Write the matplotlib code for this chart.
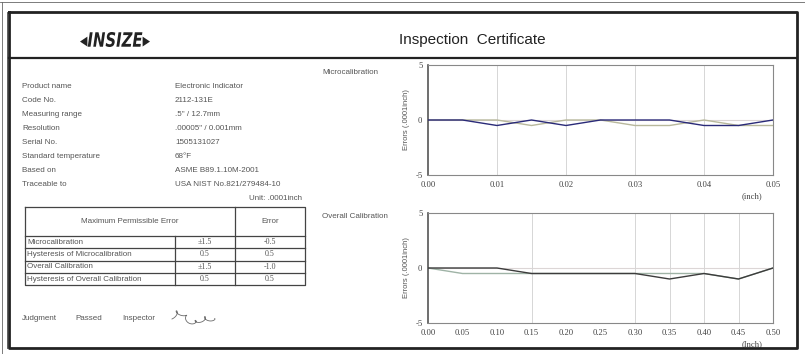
#!/usr/bin/env python3
"""Inspection certificate for an electronic indicator, with calibration error curves."""

import matplotlib
matplotlib.use("Agg")
import matplotlib.pyplot as plt
import numpy as np
from matplotlib.font_manager import FontProperties
from matplotlib.patches import PathPatch
from matplotlib.textpath import TextPath
from matplotlib.transforms import Affine2D

W, H = 805, 354

# ---- certificate data ----
info_labels = ["Product name", "Code No.", "Measuring range", "Resolution", "Serial No.",
               "Standard temperature", "Based on", "Traceable to"]
info_values = ["Electronic Indicator", "2112-131E", '.5" / 12.7mm', '.00005" / 0.001mm',
               "1505131027", "68°F", "ASME B89.1.10M-2001", "USA NIST No.821/279484-10"]
unit_text = "Unit: .0001inch"

mpe_items = ["Microcalibration", "Hysteresis of Microcalibration", "Overall Calibration",
             "Hysteresis of Overall Calibration"]
mpe_limits = ["±1.5", "0.5", "±1.5", "0.5"]
mpe_errors = ["-0.5", "0.5", "-1.0", "0.5"]

# microcalibration: position (inch) vs error (.0001 inch)
micro_pos = [0.000, 0.005, 0.010, 0.015, 0.020, 0.025, 0.030, 0.035, 0.040, 0.045, 0.050]
micro_fwd = [0, 0, -0.5, 0, -0.5, 0, 0, 0, -0.5, -0.5, 0]
micro_rev = [0, 0, 0, -0.5, 0, 0, -0.5, -0.5, 0, -0.5, -0.5]
micro_ticks = [0.00, 0.01, 0.02, 0.03, 0.04, 0.05]
micro_grid = [0.01, 0.02, 0.03, 0.04]

# overall calibration
overall_pos = [0.00, 0.05, 0.10, 0.15, 0.20, 0.25, 0.30, 0.35, 0.40, 0.45, 0.50]
overall_fwd = [0, 0, 0, -0.5, -0.5, -0.5, -0.5, -1.0, -0.5, -1.0, 0]
overall_rev = [0, -0.5, -0.5, -0.5, -0.5, -0.5, -0.5, -0.5, -0.5, -1.0, 0]
overall_ticks = [0.00, 0.05, 0.10, 0.15, 0.20, 0.25, 0.30, 0.35, 0.40, 0.45, 0.50]
overall_grid = [0.15, 0.30, 0.35, 0.40, 0.45]

SANS = ["Liberation Sans", "DejaVu Sans"]
SERIF = ["Liberation Serif", "DejaVu Serif"]
TXT = "#555555"


def fx(x):
    return x / W


def fy(y):
    return 1 - y / H


def ftext(fig, x, y, s, **kw):
    kw.setdefault("family", SANS)
    kw.setdefault("color", TXT)
    kw.setdefault("fontsize", 5.8)
    kw.setdefault("va", "center")
    return fig.text(fx(x), fy(y), s, **kw)


def fline(fig, xs, ys, **kw):
    kw.setdefault("color", "#333333")
    kw.setdefault("lw", 0.8)
    fig.add_artist(plt.Line2D([fx(v) for v in xs], [fy(v) for v in ys], **kw))


def error_axes(fig, rect_px, pos, fwd, rev, ticks, grid, unit, fwd_color, rev_color):
    left, top, right, bottom = rect_px
    ax = fig.add_axes([fx(left), fy(bottom), (right - left) / W, (bottom - top) / H])
    ax.axhline(0, color="#dcd6d6", lw=0.8, zorder=1)
    for g in grid:
        ax.axvline(g, color="#d6d6d6", lw=0.7, zorder=1)
    ax.plot(pos, rev, color=rev_color, lw=1.0, zorder=2)
    ax.plot(pos, fwd, color=fwd_color, lw=1.0, zorder=3)
    ax.set_xlim(ticks[0], ticks[-1])
    ax.set_ylim(-5, 5)
    ax.set_xticks(ticks)
    ax.set_xticklabels([f"{t:.2f}" for t in ticks], family=SERIF, fontsize=6.2, color="#444444")
    ax.set_yticks([-5, 0, 5])
    ax.set_yticklabels(["-5", "0", "5"], family=SERIF, fontsize=6.2, color="#444444")
    ax.tick_params(length=0, pad=4)
    for name, sp in ax.spines.items():
        sp.set_color("#888888" if name != "left" else "#555555")
        sp.set_linewidth(0.8 if name != "left" else 1.2)
    ax.set_ylabel("Errors (.0001inch)", family=SANS, fontsize=5.5, color="#555555", labelpad=4)
    ax.text(0.91, -0.19, unit, transform=ax.transAxes, family=SERIF, fontsize=6.2,
            color="#444444", ha="left", va="center")
    return ax


fig = plt.figure(figsize=(W / 100, H / 100), dpi=100)
fig.patch.set_facecolor("white")

# pixel-space overlay for the logo and signature
page = fig.add_axes([0, 0, 1, 1])
page.set_xlim(0, W)
page.set_ylim(H, 0)
page.axis("off")

# page frame
fline(fig, [0, W], [2, 2], color="#666666", lw=0.6)
fline(fig, [2, 2], [2, H], color="#666666", lw=0.6)
fline(fig, [9, 797, 797, 9, 9], [12, 12, 348, 348, 12], color="#222222", lw=2.0)
fline(fig, [6.5, 6.5], [12, 348], color="#444444", lw=0.6)
fline(fig, [9, 797], [58, 58], color="#222222", lw=1.6)

# header: condensed bold-italic logo built from a text path
logo_fp = FontProperties(family="DejaVu Sans", weight="bold", style="italic")
logo = TextPath((0, 0), "◂INSIZE▸", size=19, prop=logo_fp)
bb = logo.get_extents()
logo_tf = (Affine2D().translate(-bb.x0, -bb.y0).scale(70 / bb.width, -15 / bb.height)
           .translate(80, 47))
page.add_patch(PathPatch(logo_tf.transform_path(logo), color="#222222", lw=0))
ftext(fig, 472, 40, "Inspection  Certificate", fontsize=11, color="#222222", ha="center")

# product info
for i, (lab, val) in enumerate(zip(info_labels, info_values)):
    y = 86 + i * 14.1
    ftext(fig, 22, y, lab)
    ftext(fig, 175, y, val)
ftext(fig, 302, 199, unit_text, ha="right")

# permissible error table
t_left, t_right = 25, 305
c1, c2 = 175, 235
t_top, head_bot = 207, 236
row_h = 12.3
rows_bot = head_bot + row_h * len(mpe_items)
fline(fig, [t_left, t_right, t_right, t_left, t_left],
      [t_top, t_top, rows_bot, rows_bot, t_top], color="#444444", lw=0.9)
fline(fig, [t_left, t_right], [head_bot, head_bot], color="#444444", lw=0.9)
fline(fig, [c2, c2], [t_top, rows_bot], color="#444444", lw=0.9)
fline(fig, [c1, c1], [head_bot, rows_bot], color="#444444", lw=0.9)
for i in range(1, len(mpe_items)):
    yy = head_bot + i * row_h
    fline(fig, [t_left, t_right], [yy, yy], color="#444444", lw=0.9)
ftext(fig, (t_left + c2) / 2, (t_top + head_bot) / 2, "Maximum Permissible Error", ha="center")
ftext(fig, (c2 + t_right) / 2, (t_top + head_bot) / 2, "Error", ha="center")
for i, (item, lim, err) in enumerate(zip(mpe_items, mpe_limits, mpe_errors)):
    y = head_bot + row_h * (i + 0.5)
    ftext(fig, t_left + 2, y, item)
    ftext(fig, (c1 + c2) / 2, y, lim, ha="center", family=SERIF)
    ftext(fig, (c2 + t_right) / 2, y, err, ha="center", family=SERIF)

# judgement line and signature scrawl
ftext(fig, 22, 318, "Judgment")
ftext(fig, 75, 318, "Passed")
ftext(fig, 122, 318, "Inspector")
t = np.linspace(0, 1, 300)
sig_x = 172 + 42 * t + 2.5 * np.sin(28 * t)
sig_y = 317 - 6 * np.sin(9 * t) * (1 - 0.8 * t) + 2 * np.cos(28 * t) + 4 * t
page.plot(sig_x, sig_y, color="#6a6a6a", lw=0.6)

# calibration charts
ftext(fig, 322, 72, "Microcalibration")
error_axes(fig, (428, 65, 773, 175), micro_pos, micro_fwd, micro_rev, micro_ticks,
           micro_grid, "(inch)", "#2a2a78", "#b8b89c")
ftext(fig, 322, 217, "Overall Calibration")
error_axes(fig, (428, 213, 773, 323), overall_pos, overall_fwd, overall_rev, overall_ticks,
           overall_grid, "(Inch)", "#3c3c3c", "#9fb3a6")

fig.savefig("out.png", dpi=100)
